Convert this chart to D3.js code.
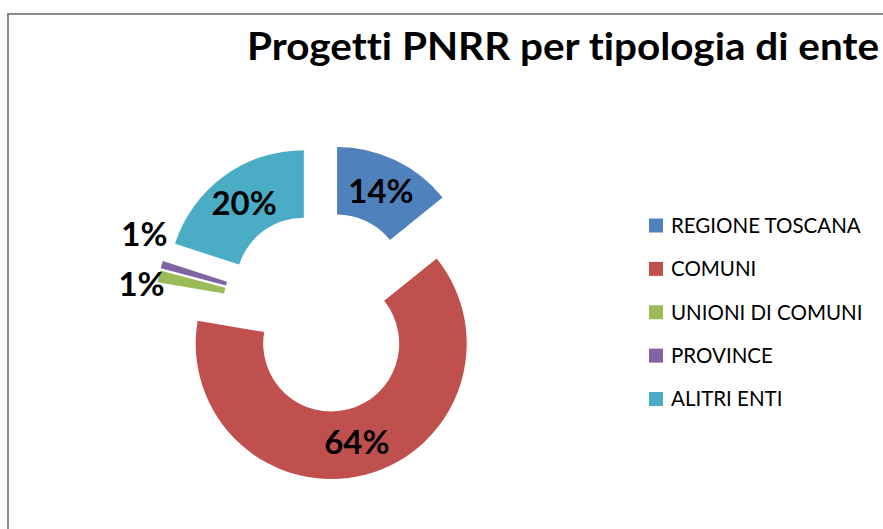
<!DOCTYPE html>
<html>
<head>
<meta charset="utf-8">
<script src="https://cdn.jsdelivr.net/npm/d3@7"></script>
<style>
  body { margin: 0; background: #fff; }
  svg text { font-family: Lato, "Open Sans", sans-serif; font-variant-ligatures: none; }
</style>
</head>
<body>
<div id="viz"></div>
<script>
// dati (quote %)
var categories = ["REGIONE TOSCANA", "COMUNI", "UNIONI DI COMUNI", "PROVINCE", "ALITRI ENTI"];
var shares = [14.2, 63.5, 1.4, 0.9, 20.0];
var colors = ["#4F81BD", "#C0504D", "#9BBB59", "#8064A2", "#4BACC6"];

var w = 883, h = 529;

var svg = d3.select("#viz").append("svg")
    .attr("width", w)
    .attr("height", h);

// cornice dell'area grafico (tagliata a destra e in basso)
svg.append("rect")
    .attr("x", 8)
    .attr("y", 14)
    .attr("width", 1000)
    .attr("height", 1000)
    .style("fill", "none")
    .style("stroke", "#8a8a8a")
    .style("stroke-width", 2);

svg.append("text")
    .attr("x", 247)
    .attr("y", 60)
    .attr("textLength", 632)
    .attr("lengthAdjust", "spacingAndGlyphs")
    .style("font-size", "38px")
    .style("font-weight", "bold")
    .style("fill", "#000")
    .text("Progetti PNRR per tipologia di ente");

var cx = 323, cy = 312,
    outer = 135.5, inner = 68,
    explode = 32.6;

var data = categories.map(function(c, i) {
  return {name: c, value: shares[i], color: colors[i]};
});

var pie = d3.pie()
    .sort(null)
    .value(function(d) { return d.value; });

var arc = d3.arc()
    .innerRadius(inner)
    .outerRadius(outer);

var arcs = pie(data);

function shift(a) {
  var m = (a.startAngle + a.endAngle) / 2;
  return [explode * Math.sin(m), -explode * Math.cos(m)];
}

var g = svg.append("g")
    .attr("transform", "translate(" + cx + "," + cy + ")");

g.selectAll("path.slice")
    .data(arcs)
  .enter().append("path")
    .attr("class", "slice")
    .attr("transform", function(a) { var s = shift(a); return "translate(" + s[0] + "," + s[1] + ")"; })
    .attr("d", arc)
    .style("fill", function(a) { return a.data.color; });

var fmt = function(v) { return Math.round(v) + "%"; };

// etichette interne per le fette grandi
g.selectAll("text.inlabel")
    .data(arcs.filter(function(a) { return a.data.value >= 5; }))
  .enter().append("text")
    .attr("class", "inlabel")
    .attr("x", function(a) { return shift(a)[0] + arc.centroid(a)[0]; })
    .attr("y", function(a) { return shift(a)[1] + arc.centroid(a)[1]; })
    .attr("dy", "0.36em")
    .attr("text-anchor", "middle")
    .style("font-size", "33px")
    .style("font-weight", "bold")
    .text(function(a) { return fmt(a.data.value); });

// etichette esterne per le fette piccole, impilate in verticale
var small = arcs.filter(function(a) { return a.data.value < 5; });
var pos = small.map(function(a) {
  var m = (a.startAngle + a.endAngle) / 2, s = shift(a), rr = outer - 6;
  return {a: a, x: s[0] + rr * Math.sin(m), y: s[1] - rr * Math.cos(m)};
});
pos.sort(function(p, q) { return p.y - q.y; });
var midY = d3.mean(pos, function(p) { return p.y; }) - 13;
pos.forEach(function(p, i) { p.y = midY + (i - (pos.length - 1) / 2) * 50; });

g.selectAll("text.outlabel")
    .data(pos)
  .enter().append("text")
    .attr("class", "outlabel")
    .attr("x", function(p) { return p.x; })
    .attr("y", function(p) { return p.y; })
    .attr("dy", "0.36em")
    .attr("text-anchor", "end")
    .style("font-size", "33px")
    .style("font-weight", "bold")
    .text(function(p) { return fmt(p.a.data.value); });

// legenda
var ly = d3.scaleLinear().domain([0, 4]).range([225.5, 399]);

var legend = svg.selectAll("g.legend")
    .data(data)
  .enter().append("g")
    .attr("class", "legend")
    .attr("transform", function(d, i) { return "translate(649," + ly(i) + ")"; });

legend.append("rect")
    .attr("x", 0)
    .attr("y", -7)
    .attr("width", 14)
    .attr("height", 14)
    .style("fill", function(d) { return d.color; });

legend.append("text")
    .attr("x", 22)
    .attr("y", 0)
    .attr("dy", "0.36em")
    .style("font-size", "20.5px")
    .style("fill", "#000")
    .text(function(d) { return d.name; });
</script>
</body>
</html>
